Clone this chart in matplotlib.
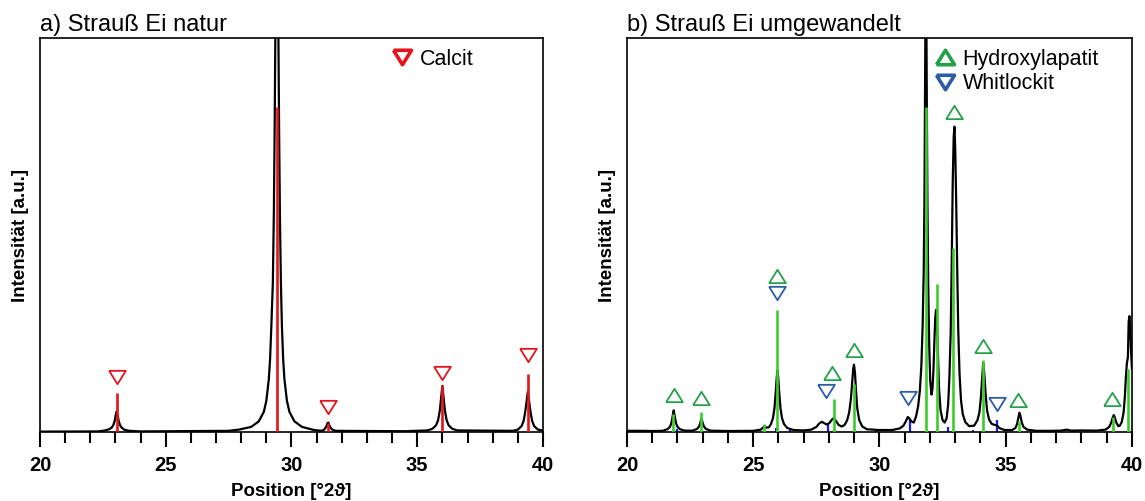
import matplotlib
matplotlib.use('Agg')
import matplotlib.pyplot as plt
from matplotlib.lines import Line2D

plt.rcParams['font.family'] = ['Liberation Sans', 'DejaVu Sans']

# a) natural ostrich egg - measured pattern (traced), 2theta / intensity
nat_x = [20.0, 22.3, 22.55, 22.75, 22.85, 22.92, 22.97, 23.01, 23.05, 23.09, 23.13, 23.18,
         23.25, 23.35, 23.55, 24.0,
         27.5, 27.9, 28.4, 28.7, 28.9, 29.0, 29.1, 29.15, 29.2, 29.26, 29.3, 29.33,
         29.36, 29.39, 29.42, 29.45, 29.48, 29.51, 29.54, 29.58, 29.62, 29.67, 29.72, 29.82,
         29.92, 30.12, 30.42, 30.9, 31.2,
         31.3, 31.38, 31.43, 31.47, 31.52, 31.6, 31.75,
         34.5, 35.4, 35.6, 35.75, 35.83, 35.9, 35.95, 36.0, 36.05, 36.1, 36.17, 36.25,
         36.4, 36.6,
         38.8, 39.0, 39.15, 39.23, 39.3, 39.35, 39.4, 39.45, 39.5, 39.57, 39.65, 39.8, 40.0]
nat_y = [0.1, 0.15, 0.35, 0.7, 1.1, 1.8, 2.8, 4.2, 5.2, 4.2, 2.8, 1.8,
         1.1, 0.6, 0.3, 0.15,
         0.3, 0.6, 1.3, 2.7, 5.1, 7.9, 13.4, 18.5, 26.9, 37.9, 55.7, 75.6,
         101.5, 128.0, 140.0, 128.0, 101.5, 75.6, 55.7, 37.9, 26.9, 18.5, 13.4, 7.9,
         5.1, 2.7, 1.3, 0.5, 0.3,
         0.6, 1.3, 2.2, 2.4, 1.5, 0.7, 0.3,
         0.2, 0.4, 0.8, 1.7, 3.0, 5.5, 8.6, 11.7, 8.6, 5.5, 3.0, 1.7,
         0.8, 0.4,
         0.3, 0.6, 1.5, 2.8, 5.3, 7.8, 10.2, 7.8, 5.3, 2.8, 1.5, 0.6, 0.4]

# calcite reference lines
calc_pos = [23.05, 29.42, 31.45, 36.0, 39.42]
calc_int = [9.9, 82.6, 2.3, 12.0, 14.7]
calc_mark_x = [23.05, 31.45, 36.0, 39.42]
calc_mark_y = [14.0, 6.3, 15.0, 19.5]

# b) converted ostrich egg - measured pattern (traced)
conv_x = [20.0, 20.6, 21.0, 21.4, 21.6, 21.7, 21.76, 21.81, 21.85, 21.89, 21.94, 22.0,
          22.1, 22.3,
          22.6, 22.78, 22.86, 22.91, 22.95, 22.99, 23.04, 23.12, 23.3,
          24.0, 25.0, 25.3, 25.4, 25.45, 25.52, 25.62,
          25.7, 25.78, 25.84, 25.89, 25.93, 25.96, 25.99, 26.03, 26.08, 26.14, 26.22, 26.35,
          26.6,
          27.0, 27.3, 27.5, 27.62, 27.72, 27.82, 27.92, 28.02, 28.12, 28.2, 28.28, 28.38,
          28.5, 28.62,
          28.72, 28.8, 28.87, 28.92, 28.96, 28.99, 29.03, 29.07, 29.12, 29.2, 29.32, 29.5,
          30.0, 30.5, 30.8, 30.95, 31.05, 31.12, 31.18, 31.26, 31.36,
          31.45, 31.53, 31.6, 31.66, 31.71, 31.75, 31.78, 31.81, 31.84, 31.87, 31.9, 31.93,
          31.97, 32.01, 32.06, 32.1, 32.14, 32.18, 32.21, 32.24, 32.27, 32.31, 32.36, 32.42,
          32.5, 32.58, 32.66, 32.72, 32.77, 32.82, 32.86, 32.9, 32.94, 32.97, 33.0, 33.04,
          33.08, 33.12, 33.17, 33.23, 33.3, 33.4, 33.55, 33.75,
          33.88, 33.96, 34.02, 34.07, 34.11, 34.15, 34.2, 34.26, 34.34, 34.44, 34.56, 34.65,
          34.75, 34.95,
          35.25, 35.38, 35.45, 35.5, 35.54, 35.58, 35.63, 35.7, 35.85, 36.2,
          36.8, 37.2, 37.4, 37.6, 38.0, 38.6,
          38.95, 39.1, 39.18, 39.24, 39.28, 39.32, 39.38, 39.46, 39.52, 39.6, 39.67, 39.72,
          39.76, 39.8, 39.84, 39.87, 39.9, 39.93, 39.96, 40.0]
conv_y = [0.3, 0.3, 0.25, 0.3, 0.7, 1.3, 2.3, 4.0, 5.5, 4.0, 2.3, 1.3,
          0.7, 0.35,
          0.35, 0.8, 1.5, 2.5, 3.4, 2.5, 1.5, 0.8, 0.35,
          0.25, 0.3, 0.6, 1.2, 1.5, 1.1, 1.2,
          2.0, 3.5, 6.0, 10.0, 13.8, 15.6, 13.8, 10.0, 6.0, 3.5, 2.0, 1.0,
          0.5,
          0.4, 0.6, 1.3, 2.2, 2.6, 2.2, 1.9, 2.3, 3.2, 3.5, 2.8, 1.8,
          1.4, 1.8,
          3.0, 5.0, 8.5, 12.5, 16.0, 17.1, 15.0, 10.5, 6.0, 3.0, 1.4, 0.7,
          0.5, 0.5, 0.9, 1.6, 2.8, 3.8, 3.5, 2.7, 2.4,
          4.0, 6.5, 10.5, 17.0, 27.0, 40.0, 58.0, 90.0, 130.0, 90.0, 58.0, 38.0,
          22.0, 13.0, 9.5, 11.0, 16.0, 24.0, 29.0, 31.0, 29.0, 21.0, 11.0, 5.5,
          3.0, 2.4, 3.5, 7.0, 14.0, 25.0, 42.0, 63.0, 75.0, 77.5, 72.0, 58.0,
          41.0, 26.0, 15.0, 8.0, 4.5, 2.5, 1.5, 1.6,
          3.0, 5.0, 9.0, 14.0, 17.5, 15.0, 10.0, 5.5, 3.2, 2.1, 1.8, 1.7,
          1.0, 0.5,
          0.5, 1.0, 2.0, 3.6, 4.9, 4.2, 2.6, 1.3, 0.6, 0.3,
          0.3, 0.35, 0.6, 0.35, 0.4, 0.35,
          0.6, 1.3, 2.4, 3.7, 4.3, 3.7, 2.4, 1.5, 1.6, 2.6, 5.0, 9.0,
          14.0, 17.5, 19.0, 28.0, 29.4, 27.0, 21.0, 16.0]

# hydroxylapatite reference lines
hap_pos = [21.83, 22.92, 25.43, 25.95, 28.2, 29.0, 31.84, 32.27, 32.92, 34.12, 35.52, 39.25, 39.85]
hap_int = [4.5, 5.0, 2.0, 31.0, 8.4, 12.3, 82.6, 37.6, 46.7, 18.4, 2.7, 3.7, 16.1]
hap_mark_x = [21.85, 22.95, 25.95, 28.13, 29.0, 32.95, 34.09, 35.47, 39.2]
hap_mark_y = [9.5, 8.6, 39.7, 14.9, 20.8, 81.1, 21.8, 8.2, 8.5]

# whitlockite reference lines
wh_pos = [21.97, 25.89, 26.45, 27.97, 29.89, 31.2, 32.73, 33.69, 34.64, 36.16, 37.66]
wh_int = [0.8, 1.0, 0.6, 2.2, 0.6, 3.2, 1.2, 0.6, 3.0, 0.6, 0.5]
wh_mark_x = [25.95, 27.88, 31.12, 34.67]
wh_mark_y = [35.4, 10.4, 8.6, 7.0]

red = '#e3141b'
green_line = '#3ccc2e'
green_mark = '#25a04a'
blue_line = '#1a1ae6'
blue_mark = '#2d5ca6'

tri_down = [(-1, 0.8), (1, 0.8), (0, -0.8), (-1, 0.8)]
tri_up = [(-1, -0.8), (1, -0.8), (0, 0.8), (-1, -0.8)]

fig = plt.figure(figsize=(11.45, 5.01), dpi=100)
ax1 = fig.add_axes([0.0349, 0.1377, 0.4393, 0.7864])
ax2 = fig.add_axes([0.5476, 0.1377, 0.4410, 0.7864])

# panel a
ax1.vlines(calc_pos, 0, calc_int, color=red, lw=1.9, zorder=3)
ax1.plot(nat_x, nat_y, color='black', lw=1.6, zorder=2)
ax1.plot(calc_mark_x, calc_mark_y, ls='none', marker=tri_down, ms=12,
         mfc='none', mec=red, mew=1.3, zorder=4)
ax1.legend(handles=[Line2D([], [], ls='none', marker=tri_down, ms=13, mfc='none',
                           mec=red, mew=2.6, label='Calcit')],
           loc='upper left', bbox_to_anchor=(0.695, 0.983), frameon=False,
           fontsize=15.5, handlelength=0.8, handletextpad=0.4, borderaxespad=0,
           borderpad=0.2)
ax1.set_title('a) Strauß Ei natur', loc='left', fontsize=17, pad=5)

# panel b
ax2.vlines(wh_pos, 0, wh_int, color=blue_line, lw=1.6, zorder=2)
ax2.vlines(hap_pos, 0, hap_int, color=green_line, lw=1.9, zorder=3)
ax2.plot(conv_x, conv_y, color='black', lw=1.6, zorder=2.5)
ax2.plot(hap_mark_x, hap_mark_y, ls='none', marker=tri_up, ms=12,
         mfc='none', mec=green_mark, mew=1.3, zorder=4)
ax2.plot(wh_mark_x, wh_mark_y, ls='none', marker=tri_down, ms=12,
         mfc='none', mec=blue_mark, mew=1.3, zorder=4)
ax2.legend(handles=[Line2D([], [], ls='none', marker=tri_up, ms=13, mfc='none',
                           mec=green_mark, mew=2.6, label='Hydroxylapatit'),
                    Line2D([], [], ls='none', marker=tri_down, ms=13, mfc='none',
                           mec=blue_mark, mew=2.6, label='Whitlockit')],
           loc='upper left', bbox_to_anchor=(0.605, 0.983), frameon=False,
           fontsize=15.5, handlelength=0.8, handletextpad=0.4, borderaxespad=0,
           borderpad=0.2, labelspacing=0.15)
ax2.set_title('b) Strauß Ei umgewandelt', loc='left', fontsize=17, pad=5)

for ax in [ax1, ax2]:
    ax.set_xlim(20, 40)
    ax.set_ylim(0, 100)
    ax.set_xticks([20, 25, 30, 35, 40])
    ax.set_xticks(range(20, 41), minor=True)
    ax.set_yticks([])
    ax.tick_params(axis='x', which='major', direction='out', length=11, width=1.5,
                   labelsize=14.5, pad=6)
    ax.tick_params(axis='x', which='minor', direction='out', length=8, width=1.5)
    for lab in ax.get_xticklabels():
        lab.set_fontweight('bold')
    for s in ax.spines.values():
        s.set_linewidth(1.2)
    ax.set_xlabel('Position [°2ϑ]', fontsize=13.5, fontweight='bold', labelpad=6)
    ax.set_ylabel('Intensität [a.u.]', fontsize=13.5, fontweight='bold', labelpad=8)

fig.savefig('out.png', dpi=100)
